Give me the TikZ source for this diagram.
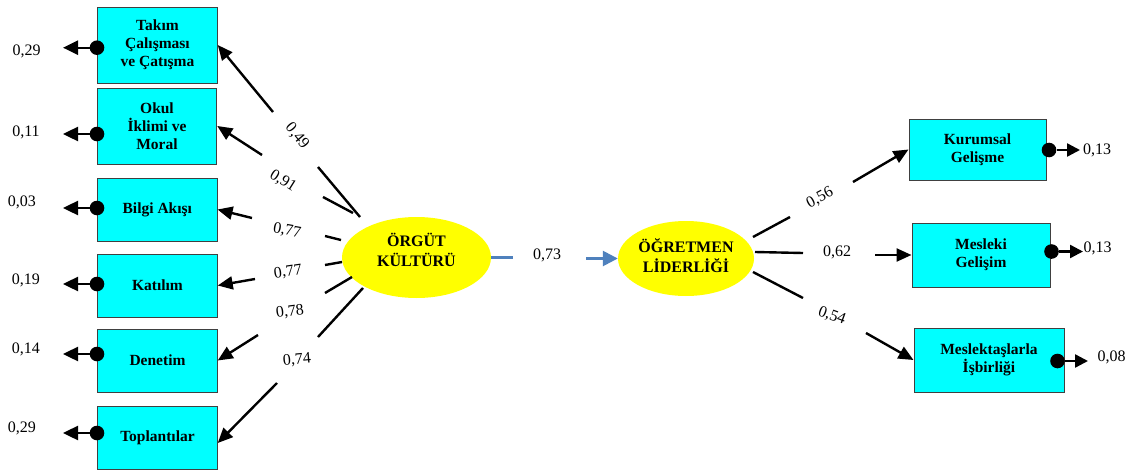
\documentclass[tikz,border=0pt]{standalone}
\usepackage{fontspec}
\setmainfont{Liberation Serif}
\usetikzlibrary{arrows.meta,shapes.geometric}
\definecolor{boxcyan}{HTML}{00FFFF}
\definecolor{latyellow}{HTML}{FFFF00}
\definecolor{pathblue}{HTML}{4F81BD}
\definecolor{boxline}{HTML}{404040}
\tikzset{
  obs/.style={draw=boxline, line width=1pt, fill=boxcyan, align=center,
    font=\bfseries\fontsize{15.5}{18}\selectfont, inner sep=0pt},
  latent/.style={ellipse, fill=latyellow, draw=none, inner sep=0pt},
  lattext/.style={font=\bfseries\fontsize{16}{20}\selectfont, align=center, inner sep=0pt},
  coef/.style={font=\fontsize{16}{19}\selectfont, inner sep=0pt},
  errdot/.style={circle, fill=black, minimum size=14.6pt, inner sep=0pt},
  load/.style={line width=2.4pt, black},
  loadarrow/.style={load, -{Triangle[length=15pt,width=13pt]}},
  errarrow/.style={line width=2.4pt, black, -{Triangle[length=15pt,width=14pt]}},
  errarrowr/.style={line width=2.4pt, black, -{Triangle[length=13pt,width=13pt]}},
  regarrow/.style={line width=2.6pt, pathblue, -{Triangle[length=15pt,width=15pt]}},
}
\begin{document}
\begin{tikzpicture}[x=1pt,y=-1pt]
\useasboundingbox (0,0) rectangle (1133,471);

% observed indicators of organisational culture
\node[obs, minimum width=119.5pt, minimum height=76pt] (tc) at (157.5,45)    {Takım\\Çalışması\\ve Çatışma};
\node[obs, minimum width=119.5pt, minimum height=76pt] (oi) at (157,126)     {Okul\\İklimi ve\\Moral};
\node[obs, minimum width=119.5pt, minimum height=63pt] (ba) at (157.3,209.5) {Bilgi Akışı};
\node[obs, minimum width=119.5pt, minimum height=63pt] (ka) at (157.5,285.5) {Katılım};
\node[obs, minimum width=119.5pt, minimum height=63pt] (de) at (157.5,360.5) {Denetim};
\node[obs, minimum width=119.5pt, minimum height=63pt] (tp) at (157.5,437.5) {Toplantılar};

% observed indicators of teacher leadership
\node[obs, minimum width=137pt, minimum height=61pt] (kg) at (977.5,149.5) {Kurumsal\\Gelişme};
\node[obs, minimum width=138pt, minimum height=64pt] (mg) at (981,255)     {Mesleki\\Gelişim};
\node[obs, minimum width=150pt, minimum height=64pt] (mi) at (989,360)     {Meslektaşlarla\\İşbirliği};

% latent variables
\node[latent, minimum width=149pt, minimum height=81pt] (ok) at (416.5,257.5) {};
\node[lattext] (okt) at (416.5,249.5) {ÖRGÜT\\KÜLTÜRÜ};
\node[latent, minimum width=136pt, minimum height=75pt] (ol) at (686,258.5) {};
\node[lattext] (olt) at (686,255.5) {ÖĞRETMEN\\LİDERLİĞİ};

% structural path
\coordinate (b1) at (513,257.5);
\coordinate (b2) at (586,258.5);
\draw[line width=2.6pt, pathblue] (ok.east) -- (b1);
\draw[regarrow] (b2) -- (ol.west);
\node[coef] at (547,255) {0,73};

% loadings on ÖRGÜT KÜLTÜRÜ
\coordinate (s1) at (360,217); \coordinate (g1) at (318,167); \coordinate (h1) at (273,112);
\coordinate (s2) at (353,213); \coordinate (g2) at (323,197); \coordinate (h2) at (262,155);
\coordinate (s3) at (341,240); \coordinate (g3) at (325,236); \coordinate (h3) at (252,218);
\coordinate (s4) at (342,262); \coordinate (g4) at (325,265); \coordinate (h4) at (255,279);
\coordinate (s5) at (352,277); \coordinate (g5) at (325,293); \coordinate (h5) at (258,335);
\coordinate (s6) at (363,288); \coordinate (g6) at (318,337); \coordinate (h6) at (277,383);
\draw[load] (s1) -- (g1); \draw[loadarrow] (h1) -- (tc.east);
\draw[load] (s2) -- (g2); \draw[loadarrow] (h2) -- (oi.east);
\draw[load] (s3) -- (g3); \draw[loadarrow] (h3) -- (ba.east);
\draw[load] (s4) -- (g4); \draw[loadarrow] (h4) -- (ka.east);
\draw[load] (s5) -- (g5); \draw[loadarrow] (h5) -- (de.east);
\draw[load] (s6) -- (g6); \draw[loadarrow] (h6) -- ([yshift=-5.5pt]tp.east);
\node[coef, rotate=-50] at (297,136) {0,49};
\node[coef, rotate=-32] at (283,181) {0,91};
\node[coef, rotate=-10] at (287,231) {0,77};
\node[coef, rotate=8]   at (288,272) {0,77};
\node[coef, rotate=7]   at (290,312) {0,78};
\node[coef, rotate=5]   at (297,360) {0,74};

% loadings on ÖĞRETMEN LİDERLİĞİ
\coordinate (r1) at (753,237); \coordinate (q1) at (790,217); \coordinate (p1) at (853,182);
\coordinate (r2) at (755,252); \coordinate (q2) at (803,253); \coordinate (p2) at (875,255);
\coordinate (r3) at (753,272); \coordinate (q3) at (803,298); \coordinate (p3) at (866,333);
\draw[load] (r1) -- (q1); \draw[loadarrow] (p1) -- (kg.west);
\draw[load] (r2) -- (q2); \draw[loadarrow] (p2) -- (mg.west);
\draw[load] (r3) -- (q3); \draw[loadarrow] (p3) -- (mi.west);
\node[coef, rotate=28]  at (820,198) {0,56};
\node[coef]             at (837,252) {0,62};
\node[coef, rotate=-20] at (832,316) {0,54};

% error terms, left column
\node[errdot] (c1) at (97,47.7) {}; \coordinate (t1) at (63,47.7);
\node[errdot] (c2) at (97,134)  {}; \coordinate (t2) at (63,134);
\node[errdot] (c3) at (97,208)  {}; \coordinate (t3) at (63,208);
\node[errdot] (c4) at (97,284)  {}; \coordinate (t4) at (63,284);
\node[errdot] (c5) at (97,354)  {}; \coordinate (t5) at (63,354);
\node[errdot] (c6) at (97,433)  {}; \coordinate (t6) at (63,433);
\foreach \i in {1,...,6} { \draw[errarrow] (c\i) -- (t\i); }
\node[coef] at (26.7,51)  {0,29};
\node[coef] at (26,132)   {0,11};
\node[coef] at (22,202)   {0,03};
\node[coef] at (26,280)   {0,19};
\node[coef] at (26,349)   {0,14};
\node[coef] at (22,428)   {0,29};

% error terms, right column
\node[errdot] (d1) at (1049,150)    {}; \coordinate (u1) at (1080,150);
\node[errdot] (d2) at (1051.5,251.5){}; \coordinate (u2) at (1083,251.5);
\node[errdot] (d3) at (1057.5,361)  {}; \coordinate (u3) at (1088,361);
\foreach \i in {1,2,3} { \draw[errarrowr] (d\i) -- (u\i); }
\node[coef] at (1097,150)   {0,13};
\node[coef] at (1097.5,248) {0,13};
\node[coef] at (1111.5,357) {0,08};
\end{tikzpicture}
\end{document}
